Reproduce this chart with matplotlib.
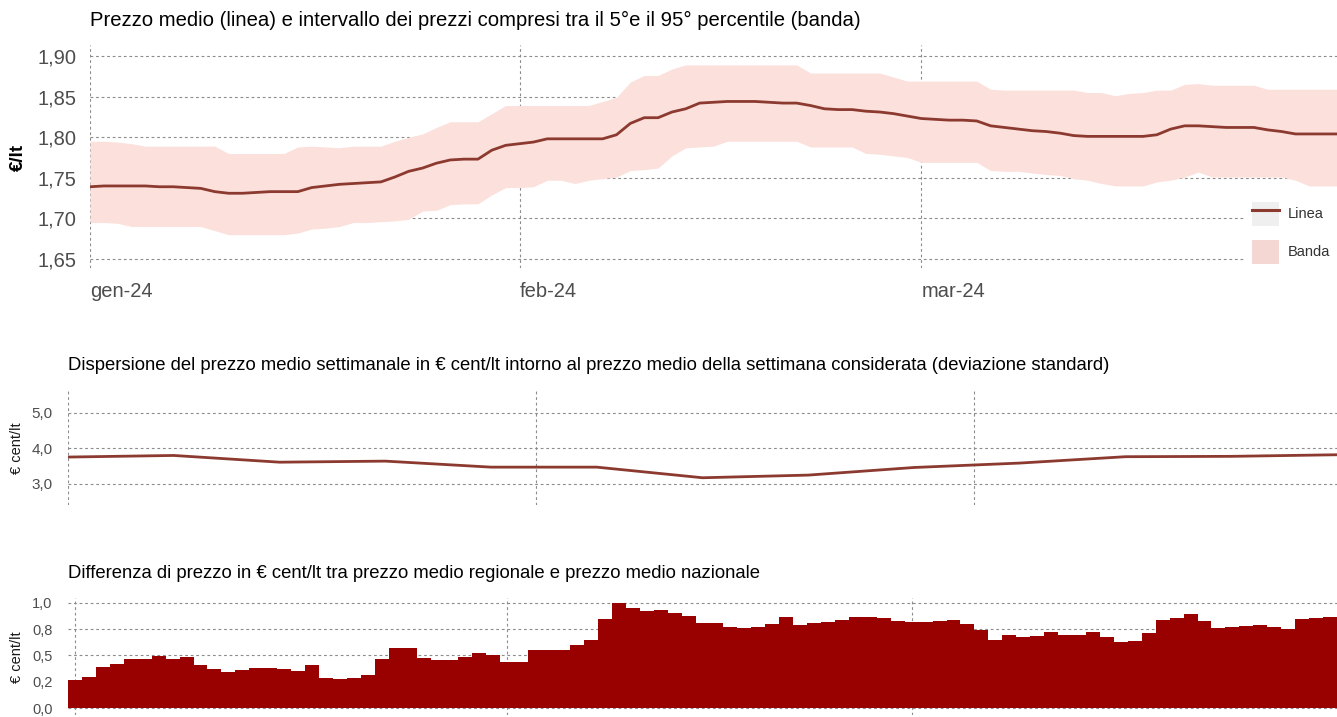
import pandas as pd
import matplotlib
matplotlib.use('Agg')
import matplotlib.pyplot as plt
from matplotlib.lines import Line2D
from matplotlib.patches import Patch
from matplotlib.legend_handler import HandlerTuple

plt.rcParams['font.family'] = ['Liberation Sans', 'DejaVu Sans']

# --- dati
giorni = pd.date_range('2024-01-01', '2024-03-31', freq='D')
settimane = pd.date_range('2024-01-01', '2024-03-25', freq='7D')
inizio_mesi = pd.to_datetime(['2024-01-01', '2024-02-01', '2024-03-01'])
etichette_mesi = ['gen-24', 'feb-24', 'mar-24']

prezzo_medio = [
    1.739, 1.740, 1.740, 1.740, 1.740, 1.739, 1.739, 1.738, 1.737, 1.733,
    1.731, 1.731, 1.732, 1.733, 1.733, 1.733, 1.738, 1.740, 1.742, 1.743,
    1.744, 1.745, 1.751, 1.758, 1.762, 1.768, 1.772, 1.773, 1.773, 1.784,
    1.790, 1.792, 1.794, 1.798, 1.798, 1.798, 1.798, 1.798, 1.803, 1.817,
    1.824, 1.824, 1.831, 1.835, 1.842, 1.843, 1.844, 1.844, 1.844, 1.843,
    1.842, 1.842, 1.839, 1.835, 1.834, 1.834, 1.832, 1.831, 1.829, 1.826,
    1.823, 1.822, 1.821, 1.821, 1.820, 1.814, 1.812, 1.810, 1.808, 1.807,
    1.805, 1.802, 1.801, 1.801, 1.801, 1.801, 1.801, 1.803, 1.810, 1.814,
    1.814, 1.813, 1.812, 1.812, 1.812, 1.809, 1.807, 1.804, 1.804, 1.804,
    1.804]

banda_max = [
    1.795, 1.795, 1.794, 1.792, 1.789, 1.789, 1.789, 1.789, 1.789, 1.789,
    1.780, 1.780, 1.780, 1.780, 1.780, 1.788, 1.789, 1.788, 1.787, 1.789,
    1.789, 1.789, 1.795, 1.800, 1.804, 1.812, 1.819, 1.819, 1.819, 1.829,
    1.839, 1.839, 1.839, 1.839, 1.839, 1.839, 1.839, 1.844, 1.849, 1.868,
    1.876, 1.876, 1.884, 1.889, 1.889, 1.889, 1.889, 1.889, 1.889, 1.889,
    1.889, 1.889, 1.879, 1.879, 1.879, 1.879, 1.879, 1.879, 1.874, 1.869,
    1.869, 1.869, 1.869, 1.869, 1.869, 1.859, 1.858, 1.858, 1.858, 1.858,
    1.858, 1.858, 1.855, 1.855, 1.851, 1.854, 1.855, 1.858, 1.858, 1.865,
    1.866, 1.864, 1.864, 1.864, 1.864, 1.859, 1.859, 1.859, 1.859, 1.859,
    1.859]

banda_min = [
    1.695, 1.695, 1.694, 1.690, 1.690, 1.690, 1.690, 1.690, 1.690, 1.685,
    1.680, 1.680, 1.680, 1.680, 1.680, 1.682, 1.687, 1.688, 1.690, 1.695,
    1.695, 1.696, 1.697, 1.699, 1.709, 1.710, 1.717, 1.718, 1.718, 1.729,
    1.738, 1.738, 1.739, 1.747, 1.747, 1.743, 1.747, 1.749, 1.751, 1.759,
    1.760, 1.762, 1.777, 1.787, 1.788, 1.789, 1.795, 1.795, 1.795, 1.795,
    1.795, 1.795, 1.788, 1.788, 1.788, 1.788, 1.780, 1.779, 1.777, 1.775,
    1.769, 1.769, 1.769, 1.769, 1.769, 1.759, 1.758, 1.758, 1.756, 1.754,
    1.753, 1.749, 1.747, 1.743, 1.740, 1.740, 1.740, 1.745, 1.747, 1.751,
    1.757, 1.751, 1.751, 1.751, 1.751, 1.751, 1.751, 1.747, 1.740, 1.740,
    1.740]

dev_standard = [3.755, 3.80, 3.61, 3.64, 3.47, 3.47, 3.17, 3.245, 3.46, 3.585, 3.765, 3.775, 3.82]

diff_nazionale = [
    0.266, 0.300, 0.386, 0.418, 0.465, 0.465, 0.497, 0.465, 0.487, 0.405,
    0.370, 0.345, 0.358, 0.377, 0.377, 0.370, 0.351, 0.405, 0.290, 0.278,
    0.285, 0.313, 0.465, 0.570, 0.570, 0.478, 0.456, 0.456, 0.484, 0.519,
    0.506, 0.434, 0.434, 0.547, 0.547, 0.554, 0.595, 0.642, 0.848, 1.000,
    0.949, 0.924, 0.930, 0.899, 0.870, 0.807, 0.807, 0.769, 0.756, 0.766,
    0.794, 0.861, 0.791, 0.807, 0.820, 0.832, 0.861, 0.861, 0.851, 0.829,
    0.816, 0.816, 0.823, 0.832, 0.797, 0.744, 0.646, 0.693, 0.677, 0.687,
    0.718, 0.690, 0.690, 0.725, 0.671, 0.630, 0.639, 0.712, 0.839, 0.858,
    0.896, 0.823, 0.763, 0.766, 0.782, 0.791, 0.766, 0.747, 0.848, 0.851,
    0.861]

col_linea = '#8c3a30'
col_banda = '#fce0dc'
col_barre = '#990000'
col_tick = '#4d4d4d'


def stile(ax):
    for s in ax.spines.values():
        s.set_visible(False)
    ax.tick_params(length=0)
    ax.set_xticks(inizio_mesi)
    ax.grid(True, color='#8c8c8c', linestyle=(0, (2.5, 2.5)), linewidth=0.8)
    ax.set_axisbelow(True)


def virgola(v, dec):
    return f'{v:.{dec}f}'.replace('.', ',')


fig = plt.figure(figsize=(13.37, 7.17), dpi=100)

# --- pannello 1: prezzo medio e banda
ax1 = fig.add_axes([90 / 1337, 1 - 268 / 717, 1247 / 1337, 223 / 717])
stile(ax1)
ax1.fill_between(giorni, banda_min, banda_max, color=col_banda, linewidth=0)
ax1.plot(giorni, prezzo_medio, color=col_linea, linewidth=2.0)
ax1.set_xlim(giorni[0], giorni[-1])
ax1.set_ylim(1.639, 1.9135)
yt1 = [1.65, 1.70, 1.75, 1.80, 1.85, 1.90]
ax1.set_yticks(yt1)
ax1.set_yticklabels([virgola(v, 2) for v in yt1], fontsize=14.5, color=col_tick)
ax1.set_xticklabels(etichette_mesi, fontsize=14.5, color=col_tick, ha='left')
ax1.tick_params(axis='y', pad=10)
ax1.tick_params(axis='x', pad=10)

handles = [(Patch(facecolor='#efefef', edgecolor='none'),
            Line2D([], [], color=col_linea, linewidth=2.2)),
           Patch(facecolor='#f4d6d2', edgecolor='none')]
leg = ax1.legend(handles, ['Linea', 'Banda'], handler_map={tuple: HandlerTuple(ndivide=1)},
                 loc='lower right', bbox_to_anchor=(1.0, -0.01), borderaxespad=0,
                 fontsize=10.5, handlelength=1.9, handleheight=2.15, labelspacing=0.95,
                 handletextpad=0.6, borderpad=0.45, frameon=True, fancybox=False)
leg.get_frame().set_facecolor('white')
leg.get_frame().set_edgecolor('none')
leg.get_frame().set_alpha(1)
for t in leg.get_texts():
    t.set_color('#333333')

fig.text(90 / 1337, 1 - 20 / 717, 'Prezzo medio (linea) e intervallo dei prezzi compresi tra il 5°e il 95° percentile (banda)',
         fontsize=14.6, ha='left', va='center', color='black')
fig.text(18 / 1337, 1 - 157 / 717, '€/lt', fontsize=13.5, fontweight='bold', rotation=90,
         ha='center', va='center')

# --- pannello 2: deviazione standard
ax2 = fig.add_axes([68 / 1337, 1 - 505 / 717, 1269 / 1337, 115 / 717])
stile(ax2)
ax2.plot(settimane, dev_standard, color=col_linea, linewidth=2.0)
ax2.set_xlim(settimane[0], settimane[-1])
ax2.set_ylim(2.40, 5.65)
yt2 = [3.0, 4.0, 5.0]
ax2.set_yticks(yt2)
ax2.set_yticklabels([virgola(v, 1) for v in yt2], fontsize=11, color=col_tick)
ax2.set_xticklabels([])
ax2.tick_params(axis='y', pad=11)

fig.text(68 / 1337, 1 - 366 / 717,
         'Dispersione del prezzo medio settimanale in € cent/lt intorno al prezzo medio della settimana considerata (deviazione standard)',
         fontsize=13.3, ha='left', va='center', color='black')
fig.text(17 / 1337, 1 - 448 / 717, '€ cent/lt', fontsize=10.5, rotation=90,
         ha='center', va='center', color='#1a1a1a')

# --- pannello 3: differenza con media nazionale
ax3 = fig.add_axes([68 / 1337, 1 - 715 / 717, 1269 / 1337, 117 / 717])
stile(ax3)
ax3.bar(giorni, diff_nazionale, width=1.0, color=col_barre, linewidth=0)
ax3.set_xlim(giorni[0] - pd.Timedelta(hours=12), giorni[-1] + pd.Timedelta(hours=12))
ax3.set_ylim(-0.065, 1.045)
yt3 = [0.0, 0.25, 0.5, 0.75, 1.0]
ax3.set_yticks(yt3)
ax3.set_yticklabels([virgola(v, 1) for v in yt3], fontsize=10.5, color=col_tick)
ax3.set_xticklabels([])
ax3.tick_params(axis='y', pad=11)

fig.text(68 / 1337, 1 - 574 / 717,
         'Differenza di prezzo in € cent/lt tra prezzo medio regionale e prezzo medio nazionale',
         fontsize=13.3, ha='left', va='center', color='black')
fig.text(17 / 1337, 1 - 657 / 717, '€ cent/lt', fontsize=10.5, rotation=90,
         ha='center', va='center', color='#1a1a1a')

fig.savefig('out.png', dpi=100)
